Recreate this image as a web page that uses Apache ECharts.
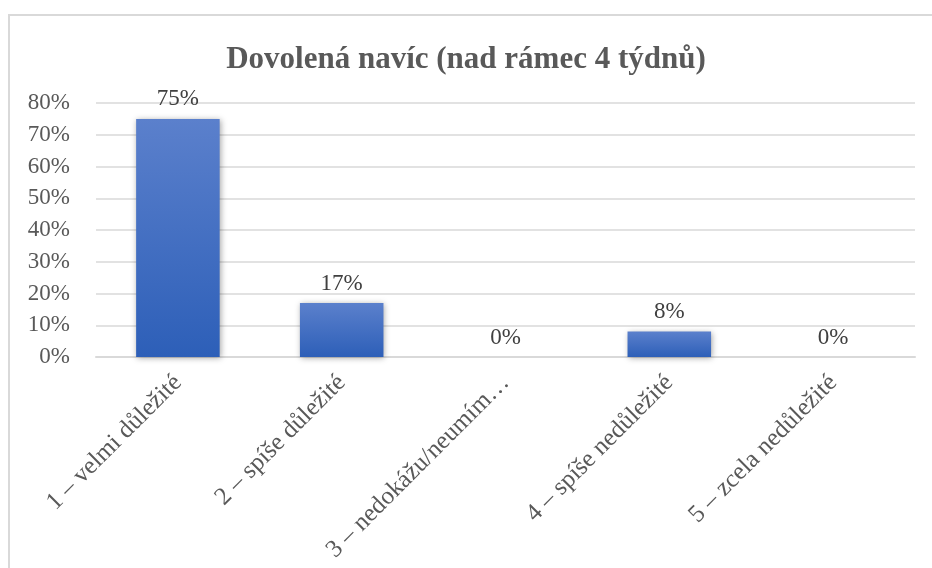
<!DOCTYPE html>
<html>
<head>
<meta charset="utf-8">
<script src="https://cdn.jsdelivr.net/npm/echarts@6/dist/echarts.min.js"></script>
<style>
  html, body { margin: 0; padding: 0; background: #fff; }
  #chart { width: 932px; height: 568px; }
</style>
</head>
<body>
<div id="chart"></div>
<script>
// Survey answers and their shares (percent)
const categories = [
  '1 – velmi důležité',
  '2 – spíše důležité',
  '3 – nedokážu/neumím…',
  '4 – spíše nedůležité',
  '5 – zcela nedůležité'
];
const values = [75, 17, 0, 8, 0];
const yTicks = [0, 10, 20, 30, 40, 50, 60, 70, 80];
const titleText = 'Dovolená navíc (nad rámec 4 týdnů)';

const serif = '"Liberation Serif", "Times New Roman", serif';
const chart = echarts.init(document.getElementById('chart'), null, { renderer: 'canvas' });

chart.setOption({
  backgroundColor: '#ffffff',
  animation: false,
  title: {
    text: titleText,
    left: 'center',
    top: 39,
    textStyle: { fontFamily: serif, fontWeight: 'bold', fontSize: 31, color: '#595959' }
  },
  graphic: [{
    type: 'rect',
    shape: { x: 9, y: 15, width: 940, height: 600 },
    style: { fill: 'none', stroke: '#d9d9d9', lineWidth: 2 },
    silent: true,
    z: -1
  }],
  grid: { left: 96, right: 17, top: 103, bottom: 211, containLabel: false },
  xAxis: {
    type: 'category',
    data: categories,
    axisLine: { show: true, lineStyle: { color: '#d9d9d9', width: 2 } },
    axisTick: { show: false },
    axisLabel: {
      rotate: 45,
      interval: 0,
      margin: 22,
      fontFamily: serif,
      fontSize: 25,
      color: '#595959'
    }
  },
  yAxis: {
    type: 'value',
    min: yTicks[0],
    max: yTicks[yTicks.length - 1],
    interval: 10,
    axisLine: { show: false },
    axisTick: { show: false },
    splitLine: { lineStyle: { color: '#d9d9d9', width: 1.5 } },
    axisLabel: {
      margin: 26,
      fontFamily: serif,
      fontSize: 23,
      color: '#595959',
      formatter: v => v + '%'
    }
  },
  series: [{
    type: 'bar',
    data: values,
    barWidth: '51%',
    itemStyle: {
      color: new echarts.graphic.LinearGradient(0, 0, 0, 1, [
        { offset: 0, color: '#5b80cc' },
        { offset: 1, color: '#2d5fb8' }
      ]),
      shadowColor: 'rgba(0,0,0,0.35)',
      shadowBlur: 6,
      shadowOffsetX: 1,
      shadowOffsetY: 1
    },
    label: {
      show: true,
      position: 'top',
      distance: 8,
      fontFamily: serif,
      fontSize: 23,
      color: '#404040',
      formatter: p => p.value + '%'
    }
  }]
});
</script>
</body>
</html>
